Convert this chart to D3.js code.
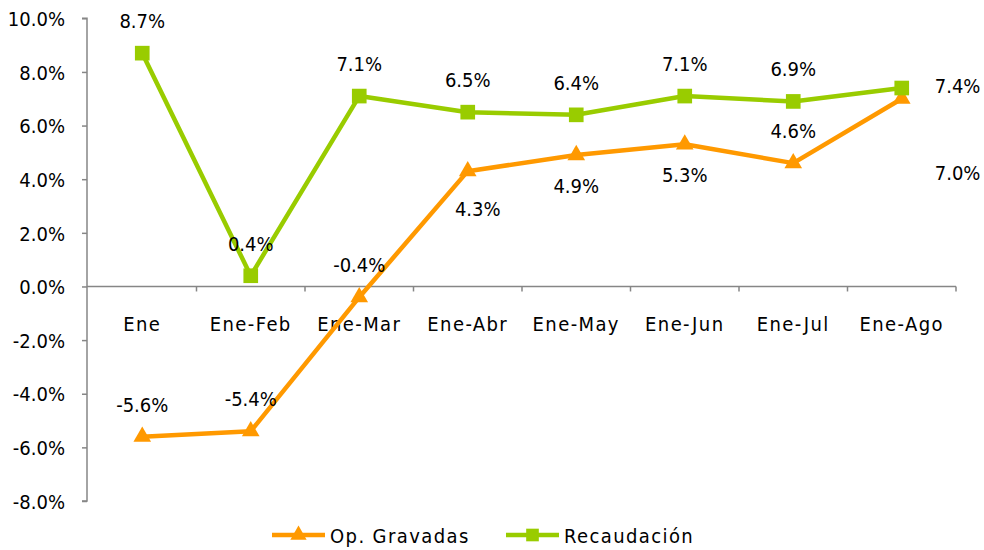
<!DOCTYPE html>
<html>
<head>
<meta charset="utf-8">
<script src="https://cdn.jsdelivr.net/npm/d3@7"></script>
<style>
  body { margin: 0; background: #fff; }
  text { font-family: "DejaVu Sans Condensed", "DejaVu Sans", sans-serif; fill: #000; }
</style>
</head>
<body>
<div class="chart"></div>
<script>
const categories = ["Ene", "Ene-Feb", "Ene-Mar", "Ene-Abr", "Ene-May", "Ene-Jun", "Ene-Jul", "Ene-Ago"];
const opGravadas = [-5.6, -5.4, -0.4, 4.3, 4.9, 5.3, 4.6, 7.0];
const recaudacion = [8.7, 0.4, 7.1, 6.5, 6.4, 7.1, 6.9, 7.4];
const yTicks = [10, 8, 6, 4, 2, 0, -2, -4, -6, -8];

// where each data label sits relative to its point
const opLabelPos = ["above", "above", "above", "below", "below", "below", "above", "rightLow"];
const recLabelPos = ["above", "above", "above", "above", "above", "above", "above", "right"];

const W = 984, H = 550;
const orange = "#FF9900";
const green = "#99CC00";
const axisColor = "#868686";

const svg = d3.select(".chart")
  .append("svg")
  .attr("width", W)
  .attr("height", H);

const x = d3.scaleBand().domain(categories).range([88, 956]);
const y = d3.scaleLinear().domain([-8, 10]).range([501, 18.3]);
const cx = c => x(c) + x.bandwidth() / 2;

// y axis
const yAxis = svg.append("g").attr("transform", "translate(87,0)")
  .call(d3.axisLeft(y).tickValues(yTicks).tickSize(5).tickFormat(d => d.toFixed(1) + "%"));
yAxis.select(".domain").attr("stroke", axisColor).attr("stroke-width", 1.5).attr("d", "M-5," + y(10) + "H0V" + y(-8) + "H-5");
yAxis.selectAll(".tick line").attr("stroke", axisColor).attr("stroke-width", 1.5);
yAxis.selectAll(".tick text")
  .attr("x", -22).attr("dy", "0.36em")
  .style("font-size", "20px")
  .style("font-family", "'DejaVu Sans Condensed', 'DejaVu Sans', sans-serif");

// x axis at zero
const xg = svg.append("g");
xg.append("line")
  .attr("x1", 87).attr("x2", 956)
  .attr("y1", y(0)).attr("y2", y(0))
  .attr("stroke", axisColor).attr("stroke-width", 1.5);
const edges = categories.map(c => x(c) + x.bandwidth());
xg.selectAll("line.tk").data(edges).enter().append("line")
  .attr("class", "tk")
  .attr("x1", d => d).attr("x2", d => d)
  .attr("y1", y(0)).attr("y2", y(0) + 5)
  .attr("stroke", axisColor).attr("stroke-width", 1.5);
xg.selectAll("text").data(categories).enter().append("text")
  .attr("x", d => cx(d))
  .attr("y", 331)
  .attr("text-anchor", "middle")
  .style("font-size", "20px")
  .style("letter-spacing", "1.4px")
  .text(d => d);

const line = d3.line().x((d, i) => cx(categories[i])).y(d => y(d));

const tri = d3.symbol().type(d3.symbolTriangle).size(135);
const sq = d3.symbol().type(d3.symbolSquare).size(215);

const drawSeries = (values, color, symbol, labelPos) => {
  const g = svg.append("g");
  g.append("path")
    .datum(values)
    .attr("d", line)
    .attr("fill", "none")
    .attr("stroke", color)
    .attr("stroke-width", 4.5)
    .attr("stroke-linejoin", "round");
  g.selectAll("path.mk").data(values).enter().append("path")
    .attr("class", "mk")
    .attr("d", symbol)
    .attr("fill", color)
    .attr("transform", (d, i) => "translate(" + cx(categories[i]) + "," + y(d) + ")");
  g.selectAll("text").data(values).enter().append("text")
    .attr("x", (d, i) => {
      const p = labelPos[i];
      if (p === "right" || p === "rightLow") return cx(categories[i]) + 33;
      if (i === 3 && p === "below") return cx(categories[i]) + 10;
      return cx(categories[i]);
    })
    .attr("y", (d, i) => {
      const p = labelPos[i];
      if (p === "above") return y(d) - 25;
      if (p === "below") return y(d) + (i === 3 ? 45 : 38);
      if (p === "right") return y(d) + 5;
      return y(d) + 81;
    })
    .attr("text-anchor", (d, i) => labelPos[i].startsWith("right") ? "start" : "middle")
    .style("font-size", "20px")
    .text(d => d.toFixed(1) + "%");
};

drawSeries(opGravadas, orange, tri, opLabelPos);
drawSeries(recaudacion, green, sq, recLabelPos);

// legend
const legend = [
  { name: "Op. Gravadas", color: orange, type: d3.symbolTriangle, size: 115, x0: 272 },
  { name: "Recaudación", color: green, type: d3.symbolSquare, size: 160, x0: 506 }
];
const lg = svg.append("g").selectAll("g").data(legend).enter().append("g")
  .attr("transform", d => "translate(" + d.x0 + ",535)");
lg.append("line")
  .attr("x1", 0).attr("x2", 53)
  .attr("stroke", d => d.color).attr("stroke-width", 4.5);
lg.append("path")
  .attr("d", d => d3.symbol().type(d.type).size(d.size)())
  .attr("transform", "translate(26.5,0)")
  .attr("fill", d => d.color);
lg.append("text")
  .attr("x", 58).attr("y", 8)
  .style("font-size", "20px")
  .style("letter-spacing", "1.4px")
  .text(d => d.name);
</script>
</body>
</html>
